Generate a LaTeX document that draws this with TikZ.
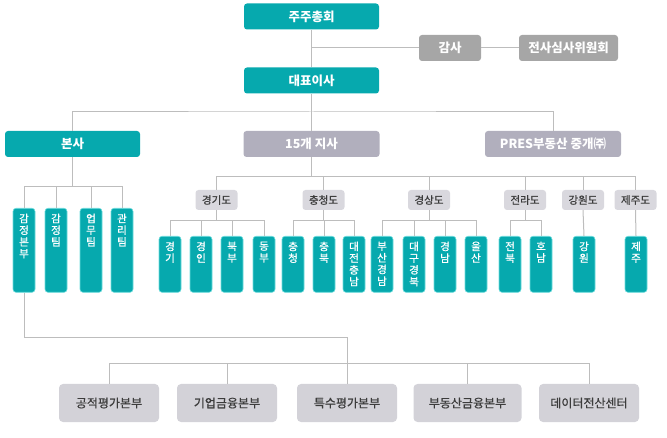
\documentclass[tikz,border=0pt]{standalone}
\usepackage{fontspec}
\setmainfont{Noto Sans CJK KR}
\newfontfamily\krmed[FakeBold=0.8]{Noto Sans CJK KR}
\definecolor{tealC}{HTML}{06A9AE}
\definecolor{tealEdge}{HTML}{6ADCDC}
\definecolor{grayC}{HTML}{A6A6A6}
\definecolor{lavC}{HTML}{B1AFBD}
\definecolor{regC}{HTML}{D9D8DE}
\definecolor{botC}{HTML}{D3D2D8}
\definecolor{lineC}{HTML}{BDBDBD}
\definecolor{darkT}{HTML}{3C3C3C}
\tikzset{
  conn/.style={draw=lineC, line width=1pt},
  basebox/.style={rounded corners=3pt, inner sep=0pt, minimum height=26pt},
  tealbox/.style={basebox, fill=tealC, text=white, minimum width=135pt, font=\fontsize{12.5}{14}\selectfont\bfseries},
  graybox/.style={basebox, fill=grayC, text=white, font=\fontsize{12.5}{14}\selectfont\bfseries},
  lavbox/.style={basebox, fill=lavC, text=white, minimum width=136pt, font=\fontsize{12.5}{14}\selectfont\bfseries},
  regbox/.style={rounded corners=3pt, inner sep=0pt, fill=regC, text=darkT, minimum width=42pt, minimum height=20pt, font=\fontsize{10.5}{12}\selectfont\krmed},
  botbox/.style={rounded corners=4pt, inner sep=0pt, fill=botC, text=darkT, minimum width=100pt, minimum height=38pt, font=\fontsize{12}{14}\selectfont\krmed},
  vbx/.style={rounded corners=3pt, fill=tealC, draw=tealEdge, line width=0.6pt, minimum width=22pt, inner sep=0pt, anchor=north},
  vtxt/.style={text=white, align=center, inner sep=0pt, anchor=north, font=\fontsize{10.5}{11.7}\selectfont\krmed}
}
\newcommand{\vnode}[5]{%
  \node[vbx, minimum height=#4pt] (#1) at (#2,#3) {};
  \node[vtxt] (#1t) at ([yshift=-5.5pt]#1.north) {#5};
}
\begin{document}
\begin{tikzpicture}[x=1pt,y=-1pt]
\useasboundingbox (0,0) rectangle (667,438);

% top level
\node[tealbox] (jj) at (311.5,16.5) {주주총회};
\node[graybox, minimum width=62pt] (gamsa) at (450,48) {감사};
\node[graybox, minimum width=99pt] (jeonsa) at (568.5,48) {전사심사위원회};
\node[tealbox] (ceo) at (311.5,80.5) {대표이사};
\node[tealbox] (bonsa) at (72.5,144) {본사};
\node[lavbox] (jisa) at (311.5,144) {15개 지사};
\node[lavbox] (pres) at (553,144) {PRES부동산 중개㈜};

\coordinate (j1) at (311.5,48);
\coordinate (c1) at (311.5,112);
\draw[conn] (jj.south) -- (ceo.north);
\draw[conn] (j1) -- (gamsa.west);
\draw[conn] (gamsa.east) -- (jeonsa.west);
\draw[conn] (ceo.south) -- (c1);
\draw[conn] (bonsa.north) |- (c1) -| (pres.north);
\draw[conn] (c1) -- (jisa.north);

% 본사 children
\vnode{k1}{24}{208}{84}{감\\정\\본\\부}
\vnode{k2}{56}{208}{84}{감\\정\\팀}
\vnode{k3}{91}{208}{84}{업\\무\\팀}
\vnode{k4}{122}{208}{84}{관\\리\\팀}
\coordinate (bb) at (72.5,187);
\draw[conn] (bonsa.south) -- (bb);
\foreach \k in {k1,k2,k3,k4} \draw[conn] (bb) -| (\k.north);

% regions
\node[regbox] (gg) at (216.5,200) {경기도};
\node[regbox] (cc) at (323.5,200) {충청도};
\node[regbox] (gs) at (429,200) {경상도};
\node[regbox] (jl) at (525,200) {전라도};
\node[regbox] (gw) at (583,200) {강원도};
\node[regbox] (jz) at (635.5,200) {제주도};
\coordinate (jb) at (311.5,177);
\draw[conn] (jisa.south) -- (jb);
\foreach \r in {gg,cc,gs,jl,gw,jz} \draw[conn] (jb) -| (\r.north);

% region children
\vnode{g1}{170}{236}{56}{경\\기}
\vnode{g2}{201}{236}{56}{경\\인}
\vnode{g3}{232}{236}{56}{북\\부}
\vnode{g4}{264}{236}{56}{동\\부}
\vnode{c1k}{293}{236}{56}{충\\청}
\vnode{c2k}{324}{236}{56}{충\\북}
\vnode{c3k}{354}{236}{56}{대\\전\\충\\남}
\vnode{s1}{382}{236}{56}{부\\산\\경\\남}
\vnode{s2}{414}{236}{56}{대\\구\\경\\북}
\vnode{s3}{445}{236}{56}{경\\남}
\vnode{s4}{476}{236}{56}{울\\산}
\vnode{l1}{510}{236}{56}{전\\북}
\vnode{l2}{541}{236}{56}{호\\남}
\vnode{w1}{584}{236}{56}{강\\원}
\vnode{z1}{636}{236}{56}{제\\주}

\coordinate (ggb) at (216.5,221);
\draw[conn] (gg.south) -- (ggb);
\foreach \k in {g1,g2,g3,g4} \draw[conn] (ggb) -| (\k.north);
\coordinate (ccb) at (323.5,221);
\draw[conn] (cc.south) -- (ccb);
\foreach \k in {c1k,c2k,c3k} \draw[conn] (ccb) -| (\k.north);
\coordinate (gsb) at (429,221);
\draw[conn] (gs.south) -- (gsb);
\foreach \k in {s1,s2,s3,s4} \draw[conn] (gsb) -| (\k.north);
\coordinate (jlb) at (525,221);
\draw[conn] (jl.south) -- (jlb);
\foreach \k in {l1,l2} \draw[conn] (jlb) -| (\k.north);
\draw[conn] (gw.south) -- (w1.north);
\draw[conn] (jz.south) -- (z1.north);

% bottom
\node[botbox] (b1) at (109,403) {공적평가본부};
\node[botbox] (b2) at (227,403) {기업금융본부};
\node[botbox] (b3) at (347,403) {특수평가본부};
\node[botbox, minimum width=108pt] (b4) at (467.5,403) {부동산금융본부};
\node[botbox] (b5) at (589,403) {데이터전산센터};
\coordinate (kb) at (24,338);
\draw[conn] (k1.south) -- (kb) -| (b3.north);
\coordinate (bt) at (347,364);
\foreach \b in {b1,b2,b4,b5} \draw[conn] (bt) -| (\b.north);
\end{tikzpicture}
\end{document}
